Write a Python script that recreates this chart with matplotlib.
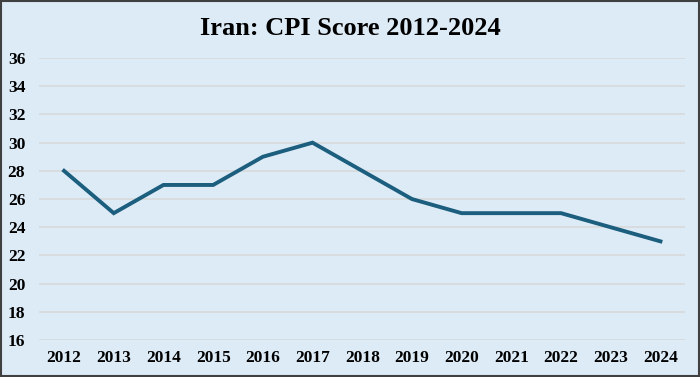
import matplotlib.pyplot as plt
from matplotlib.patches import Rectangle

years = ['2012', '2013', '2014', '2015', '2016', '2017', '2018',
         '2019', '2020', '2021', '2022', '2023', '2024']
scores = [28, 25, 27, 27, 29, 30, 28, 26, 25, 25, 25, 24, 23]
yticks = [16, 18, 20, 22, 24, 26, 28, 30, 32, 34, 36]

bg = '#DDEBF7'
plt.rcParams['font.family'] = ['Liberation Serif', 'DejaVu Serif']

fig = plt.figure(figsize=(7, 3.77), dpi=100, facecolor=bg)
ax = fig.add_axes([0.056, 0.098, 0.923, 0.748])
ax.set_facecolor(bg)

x = range(len(years))
ax.plot(x, scores, color='#1B5E7E', lw=2.8, solid_joinstyle='miter')

ax.set_xlim(-0.5, len(years) - 0.5)
ax.set_ylim(16, 36)
ax.set_yticks(yticks)
ax.set_xticks(list(x))
ax.set_xticklabels(years)
ax.grid(axis='y', color='#D9D9D9', lw=1.2)
ax.set_axisbelow(True)
for s in ax.spines.values():
    s.set_visible(False)
ax.tick_params(length=0, labelsize=12.5, pad=7)
for lab in ax.get_xticklabels() + ax.get_yticklabels():
    lab.set_fontweight('bold')
ax.tick_params(axis='y', pad=10)

fig.text(0.5, 0.925, 'Iran: CPI Score 2012-2024', ha='center', va='center',
         fontsize=19, fontweight='bold')

fig.patches.append(Rectangle((0.002, 0.003), 0.996, 0.994, transform=fig.transFigure,
                             fill=False, edgecolor='#404040', lw=1.5))

fig.savefig('out.png', dpi=100, facecolor=bg)
